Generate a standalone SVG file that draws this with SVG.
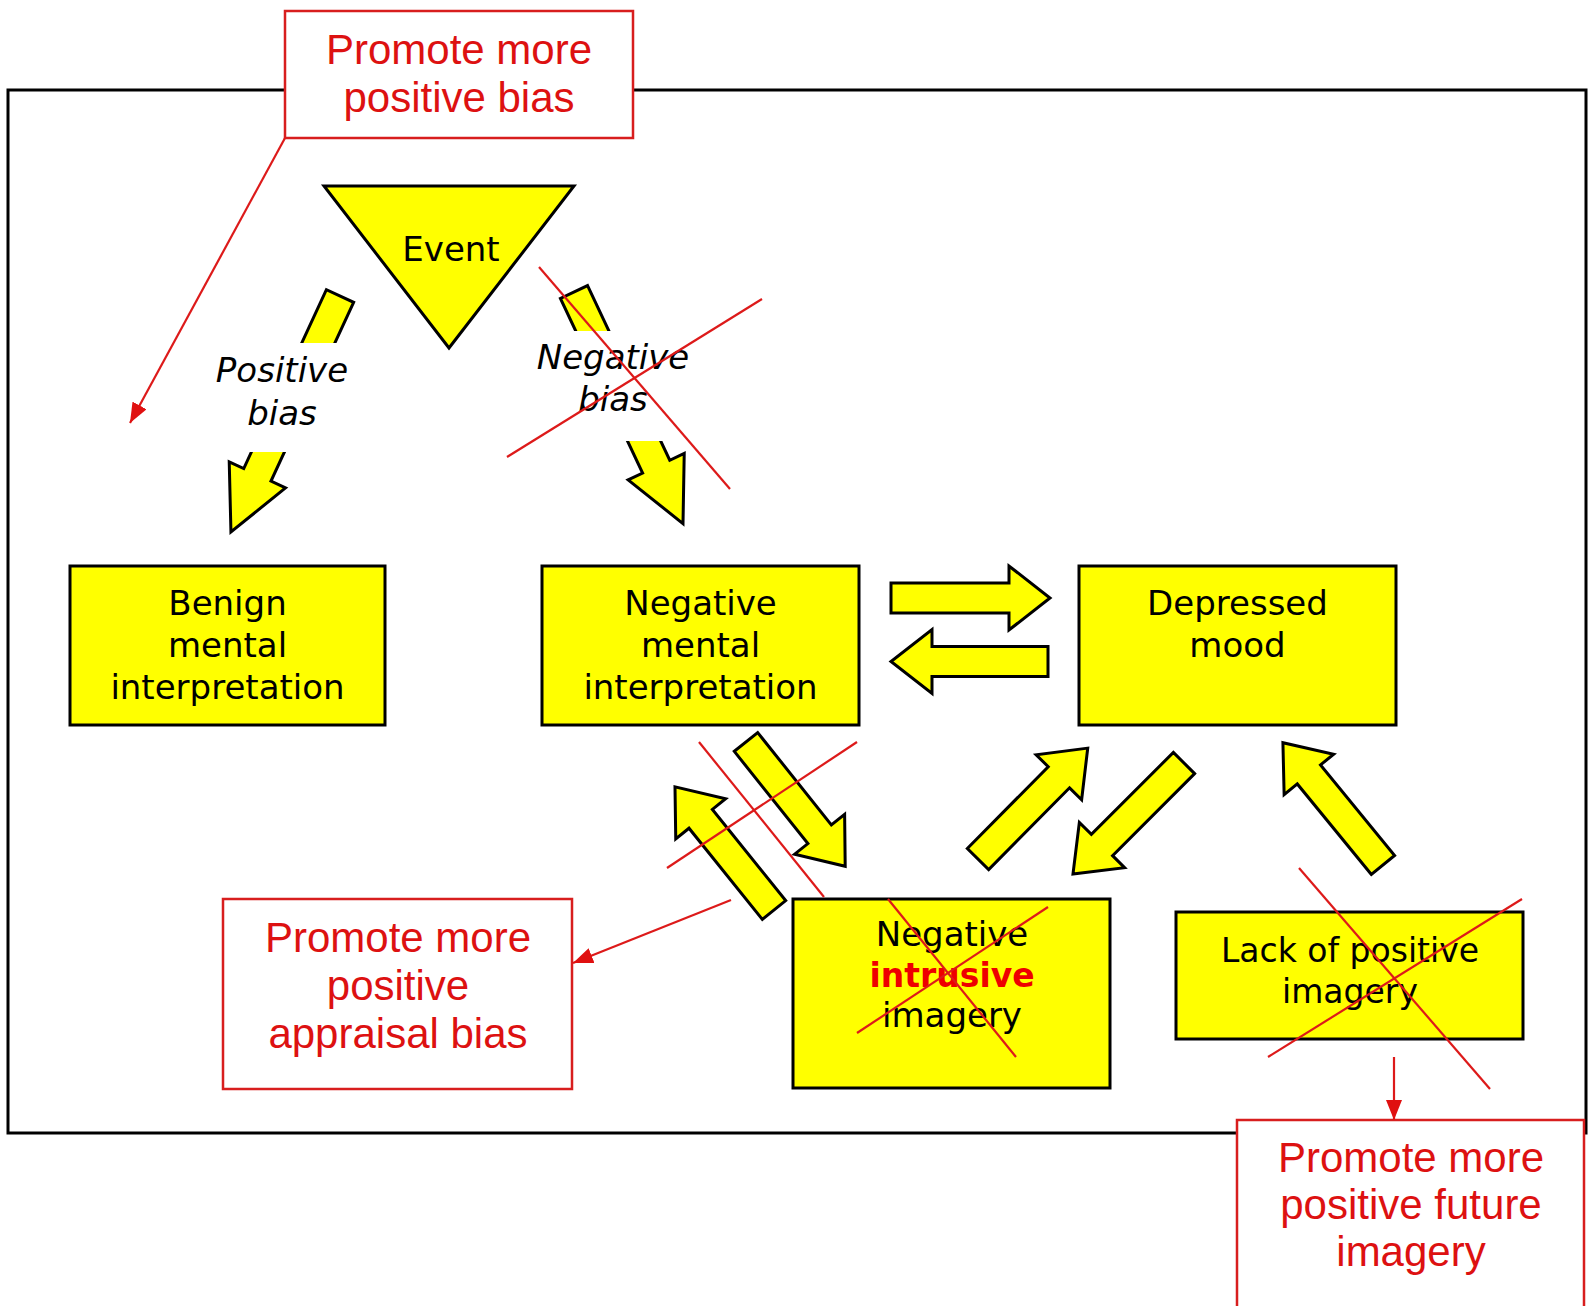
<svg xmlns="http://www.w3.org/2000/svg" width="1592" height="1306" viewBox="0 0 1592 1306">
  <style>
    .node { fill: #ffff00; stroke: #000; stroke-width: 3; }
    .arr { fill: #ffff00; stroke: #000; stroke-width: 3; stroke-linejoin: miter; }
    .lbl { font-family: "DejaVu Sans", Verdana, sans-serif; font-size: 34px; fill: #000; text-anchor: middle; }
    .ital { font-style: italic; }
    .hot { font-weight: bold; fill: #ee0000; }
    .note { fill: #fff; stroke: #d81e1e; stroke-width: 2.5; }
    .ntext { font-family: "Liberation Sans", Arial, sans-serif; font-size: 42px; fill: #dd1111; text-anchor: middle; }
    .red { stroke: #dd1a1a; stroke-width: 2.2; fill: none; }
  </style>
  <defs>
    <marker id="rhead" viewBox="0 0 20 16" refX="20" refY="8" markerWidth="20" markerHeight="16" markerUnits="userSpaceOnUse" orient="auto">
      <path d="M0,0 L20,8 L0,16 Z" fill="#e01010"/>
    </marker>
  </defs>

  <rect width="1592" height="1306" fill="#fff"/>

  <!-- outer frame -->
  <rect x="8" y="90" width="1578" height="1043" fill="none" stroke="#000" stroke-width="3"/>

  <!-- event node -->
  <g id="event">
    <polygon class="node" points="324,186 574,186 449,348"/>
    <text class="lbl" x="451" y="261">Event</text>
  </g>

  <!-- bias arrows with their labels -->
  <g id="positive-bias">
    <path class="arr" transform="translate(340,296) rotate(114.8)" d="M0,-15 H197 V-31 L260,0 L197,31 V15 H0 Z"/>
    <rect x="200" y="343" width="160" height="109" fill="#fff"/>
    <text class="lbl ital" x="282" y="382">Positive</text>
    <text class="lbl ital" x="282" y="425">bias</text>
  </g>
  <g id="negative-bias">
    <path class="arr" transform="translate(574,292) rotate(64.8)" d="M0,-15 H193 V-31 L256,0 L193,31 V15 H0 Z"/>
    <rect x="525" y="331" width="180" height="110" fill="#fff"/>
    <text class="lbl ital" x="613" y="369">Negative</text>
    <text class="lbl ital" x="613" y="411">bias</text>
  </g>

  <!-- interpretation and mood nodes -->
  <g id="benign">
    <rect class="node" x="70" y="566" width="315" height="159"/>
    <text class="lbl" x="227.5" y="615">Benign</text>
    <text class="lbl" x="227.5" y="657">mental</text>
    <text class="lbl" x="227.5" y="699">interpretation</text>
  </g>
  <g id="negative-interpretation">
    <rect class="node" x="542" y="566" width="317" height="159"/>
    <text class="lbl" x="700.5" y="615">Negative</text>
    <text class="lbl" x="700.5" y="657">mental</text>
    <text class="lbl" x="700.5" y="699">interpretation</text>
  </g>
  <g id="depressed-mood">
    <rect class="node" x="1079" y="566" width="317" height="159"/>
    <text class="lbl" x="1237.5" y="615">Depressed</text>
    <text class="lbl" x="1237.5" y="657">mood</text>
  </g>
  <g id="intrusive-imagery">
    <rect class="node" x="793" y="899" width="317" height="189"/>
    <text class="lbl" x="952" y="946">Negative</text>
    <text class="lbl hot" x="952" y="987" style="font-size:33px">intrusive</text>
    <text class="lbl" x="952" y="1027">imagery</text>
  </g>
  <g id="lack-positive">
    <rect class="node" x="1176" y="912" width="347" height="127"/>
    <text class="lbl" x="1350" y="962" style="font-size:33px">Lack of positive</text>
    <text class="lbl" x="1350" y="1003" style="font-size:33px">imagery</text>
  </g>

  <!-- block arrows between nodes -->
  <g id="block-arrows">
    <path class="arr" transform="translate(891,598)" d="M0,-15 H118 V-32 L159,0 L118,32 V15 H0 Z"/>
    <path class="arr" transform="translate(1048,661.5) rotate(180)" d="M0,-15 H116 V-32 L157,0 L116,32 V15 H0 Z"/>
    <path class="arr" transform="translate(746,742) rotate(51.4)" d="M0,-15 H118 V-32 L159,0 L118,32 V15 H0 Z"/>
    <path class="arr" transform="translate(774,910) rotate(-128.8)" d="M0,-15 H117 V-32 L158,0 L117,32 V15 H0 Z"/>
    <path class="arr" transform="translate(978,859) rotate(-45.3)" d="M0,-15 H115 V-32 L156,0 L115,32 V15 H0 Z"/>
    <path class="arr" transform="translate(1184,763) rotate(135)" d="M0,-15 H116 V-32 L157,0 L116,32 V15 H0 Z"/>
    <path class="arr" transform="translate(1383,865) rotate(-129.3)" d="M0,-15 H117 V-32 L158,0 L117,32 V15 H0 Z"/>
  </g>

  <!-- intervention notes -->
  <g id="note-bias">
    <rect class="note" x="285" y="11" width="348" height="127"/>
    <text class="ntext" x="459" y="64">Promote more</text>
    <text class="ntext" x="459" y="112">positive bias</text>
  </g>
  <g id="note-appraisal">
    <rect class="note" x="223" y="899" width="349" height="190"/>
    <text class="ntext" x="398" y="952">Promote more</text>
    <text class="ntext" x="398" y="1000">positive</text>
    <text class="ntext" x="398" y="1048">appraisal bias</text>
  </g>
  <g id="note-future">
    <rect class="note" x="1237" y="1120" width="347" height="200"/>
    <text class="ntext" x="1411" y="1172">Promote more</text>
    <text class="ntext" x="1411" y="1219">positive future</text>
    <text class="ntext" x="1411" y="1266">imagery</text>
  </g>

  <!-- red connectors and crossings-out -->
  <g id="connectors">
    <line class="red" x1="285" y1="138" x2="130" y2="423" marker-end="url(#rhead)"/>
    <line class="red" x1="731" y1="900" x2="573" y2="963" marker-end="url(#rhead)"/>
    <line class="red" x1="1394" y1="1057" x2="1394" y2="1120" marker-end="url(#rhead)"/>

    <line class="red" x1="539" y1="267" x2="730" y2="489"/>
    <line class="red" x1="762" y1="299" x2="507" y2="457"/>
    <line class="red" x1="699" y1="742" x2="824" y2="897"/>
    <line class="red" x1="857" y1="742" x2="667" y2="868"/>
    <line class="red" x1="888" y1="899" x2="1016" y2="1057"/>
    <line class="red" x1="1048" y1="907" x2="857" y2="1033"/>
    <line class="red" x1="1299" y1="868" x2="1490" y2="1089"/>
    <line class="red" x1="1522" y1="899" x2="1268" y2="1057"/>
  </g>
</svg>
